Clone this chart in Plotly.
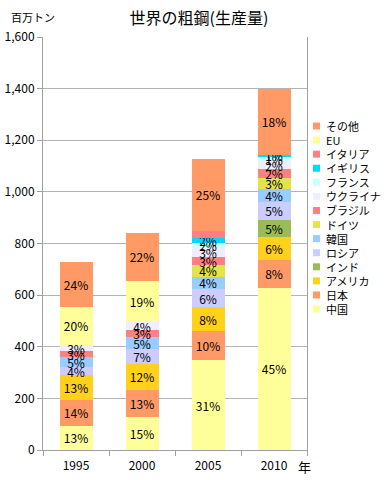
import plotly.graph_objects as go

# ---------------- data ----------------
years = ["1995", "2000", "2005", "2010"]
series_names = ["中国", "日本", "アメリカ", "インド", "ロシア", "韓国", "ドイツ", "ブラジル",
                "ウクライナ", "フランス", "イギリス", "イタリア", "EU", "その他"]
china   = [93, 127, 347, 628]
japan   = [102, 106, 113, 110]
usa     = [95, 101, 94, 88]
india   = [None, None, None, 66]
russia  = [32, 59, 68, 70]
korea   = [37, 43, 50, 50]
germany = [None, None, 43, 43]
brazil  = [24, 28, 31, 32]
ukraine = [24, 32, 38, 32]
france  = [None, None, 19, 16]
uk      = [None, None, 17, 9]
italy   = [None, None, 27, None]
eu      = [148, 160, None, None]
others  = [175, 186, 282, 255]
series_values = [china, japan, usa, india, russia, korea, germany, brazil,
                 ukraine, france, uk, italy, eu, others]
colors = ["#FFFF99", "#FF9966", "#FFD11A", "#9BBB59", "#CCCCFF", "#99CCFF", "#E3E34A",
          "#FF8080", "#EEEEFF", "#CCFFFF", "#00D8FF", "#FF8080", "#FFFF99", "#FF9966"]
no_label = {"イタリア"}
y_ticks = [0, 200, 400, 600, 800, 1000, 1200, 1400, 1600]

FONT = "Noto Sans CJK JP, Noto Sans, sans-serif"

totals = [sum(s[i] or 0 for s in series_values) for i in range(len(years))]

fig = go.Figure()
for name, vals, col in zip(series_names, series_values, colors):
    txt = []
    for i, v in enumerate(vals):
        if v is None or name in no_label:
            txt.append("")
        else:
            txt.append(f"{round(v / totals[i] * 100)}%")
    fig.add_trace(go.Bar(
        x=years, y=vals, name=name, marker=dict(color=col, line=dict(width=0)),
        text=txt, textposition="inside", insidetextanchor="middle",
        textangle=0, constraintext="none",
        textfont=dict(family=FONT, size=12, color="#000000"),
        showlegend=False, hoverinfo="skip"))

# plot area geometry (pixels)
L, R, T, B = 43, 307, 37, 450
W, H = 384, 480


def px(xp):
    return (xp - L) / (R - L)


def py(yp):
    return (B - yp) / (B - T)


annotations = [
    dict(text="百万トン", x=px(9), y=py(17), xref="paper", yref="paper",
         xanchor="left", yanchor="middle", showarrow=False,
         font=dict(family=FONT, size=11, color="#000")),
    dict(text="年", x=px(304), y=py(466), xref="paper", yref="paper",
         xanchor="center", yanchor="middle", showarrow=False,
         font=dict(family=FONT, size=13, color="#000")),
]
shapes = []
# manual legend (top to bottom: reversed stack order)
leg_top, leg_step = 126, 14.08
for k, idx in enumerate(reversed(range(len(series_names)))):
    yc = leg_top + k * leg_step
    shapes.append(dict(type="rect", xref="paper", yref="paper",
                       x0=px(313), x1=px(320), y0=py(yc + 3.5), y1=py(yc - 3.5),
                       fillcolor=colors[idx], line=dict(width=0)))
    annotations.append(dict(text=series_names[idx], x=px(324), y=py(yc),
                            xref="paper", yref="paper", xanchor="left", yanchor="middle",
                            showarrow=False,
                            font=dict(family=FONT, size=11, color="#000")))

fig.update_layout(
    width=W, height=H, autosize=False,
    margin=dict(l=L, r=W - R, t=T, b=H - B, pad=0),
    paper_bgcolor="white", plot_bgcolor="white",
    barmode="stack", bargap=0.5,
    title=dict(text="世界の粗鋼(生産量)", x=199 / W, xref="container", xanchor="center",
               y=1 - 18 / H, yref="container", yanchor="middle",
               font=dict(family=FONT, size=16, color="#000")),
    font=dict(family=FONT, size=12, color="#000"),
    annotations=annotations, shapes=shapes,
    xaxis=dict(type="category", showline=True, linecolor="#A0A0A0", linewidth=1,
               ticks="outside", tickson="boundaries", ticklen=5, tickcolor="#A0A0A0",
               automargin=False, ticklabelstandoff=5,
               tickfont=dict(family=FONT, size=12, color="#000"), showgrid=False),
    yaxis=dict(range=[0, 1600], tickvals=y_ticks, tickformat=",", showline=True,
               mirror=True, linecolor="#A0A0A0", linewidth=1, ticks="outside",
               ticklen=5, tickcolor="#A0A0A0", showgrid=True, gridcolor="#B4B4B4",
               gridwidth=1, zeroline=False, automargin=False,
               tickfont=dict(family=FONT, size=12, color="#000")),
)
fig.write_html("out.html", config={"displayModeBar": False},
               post_script="document.body.style.margin='0';document.body.style.padding='0';")
